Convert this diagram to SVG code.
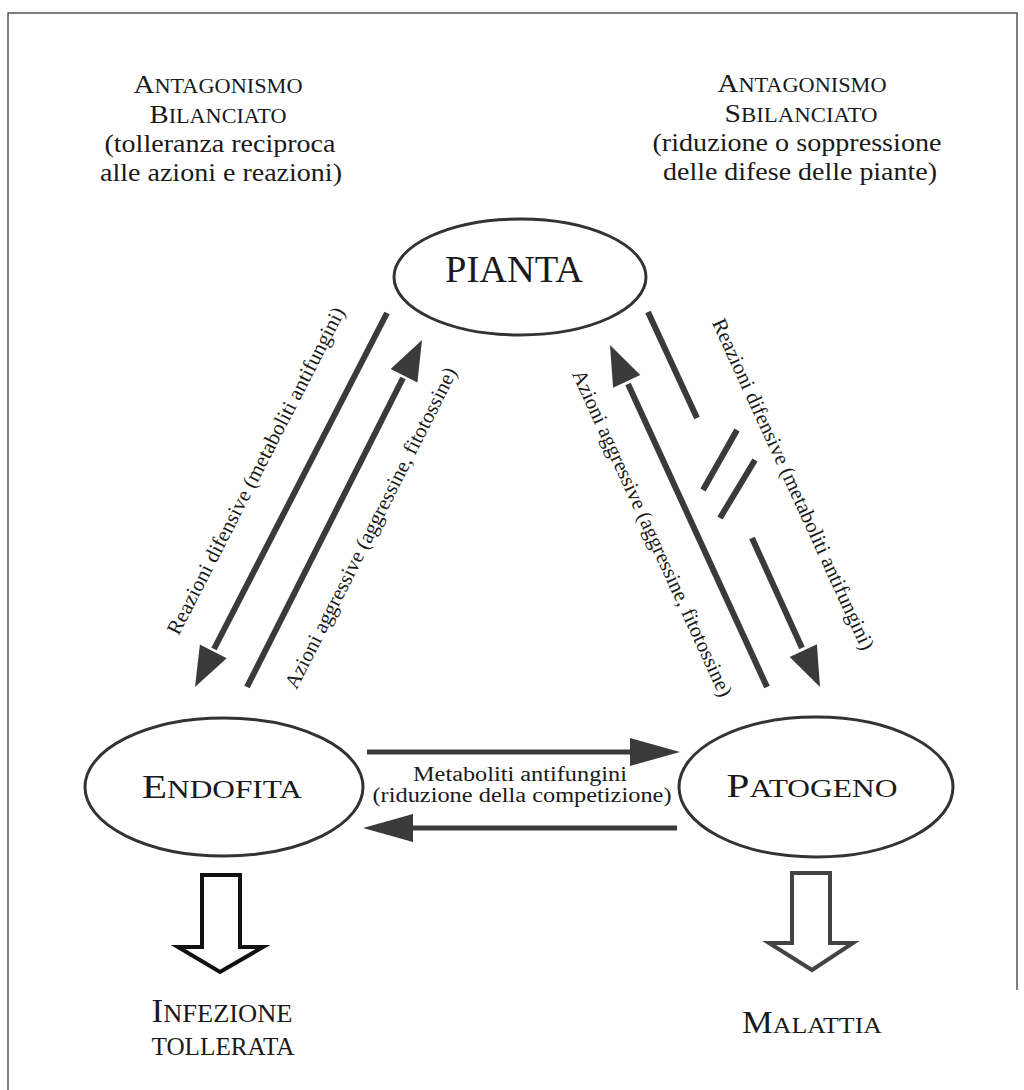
<svg xmlns="http://www.w3.org/2000/svg" width="1024" height="1090" viewBox="0 0 1024 1090">
<style>
  text { font-family: "Liberation Serif", "Times New Roman", serif; fill: #1a1a1a; }
  .hdr { font-size: 26px; }
  .lbl { font-size: 21px; }
  .mid { font-size: 20px; }
  .node { fill: none; stroke: #333; stroke-width: 3; }
  .conn { stroke: #3a3a3a; stroke-width: 6; fill: none; }
  .hconn { stroke: #3a3a3a; stroke-width: 5; fill: none; }
  .head { fill: #3a3a3a; stroke: none; }
  .hollow { fill: #fff; stroke-width: 4; stroke-linejoin: miter; }
</style>
<rect x="0" y="0" width="1024" height="1090" fill="#fff"/>
<g id="frame" stroke="#555" stroke-width="1.5" fill="none">
  <path d="M8 1090 V13 H1017 V990"/>
</g>

<g id="header-left">
  <text x="218" y="93" text-anchor="middle" textLength="169" lengthAdjust="spacingAndGlyphs"><tspan font-size="26">A</tspan><tspan font-size="20">NTAGONISMO</tspan></text>
  <text x="218" y="123" text-anchor="middle" textLength="137" lengthAdjust="spacingAndGlyphs"><tspan font-size="26">B</tspan><tspan font-size="20">ILANCIATO</tspan></text>
  <text class="hdr" x="220" y="152" text-anchor="middle" textLength="231" lengthAdjust="spacingAndGlyphs">(tolleranza reciproca</text>
  <text class="hdr" x="221" y="181" text-anchor="middle" textLength="242" lengthAdjust="spacingAndGlyphs">alle azioni e reazioni)</text>
</g>
<g id="header-right">
  <text x="802" y="92" text-anchor="middle" textLength="169" lengthAdjust="spacingAndGlyphs"><tspan font-size="26">A</tspan><tspan font-size="20">NTAGONISMO</tspan></text>
  <text x="801" y="122" text-anchor="middle" textLength="153" lengthAdjust="spacingAndGlyphs"><tspan font-size="26">S</tspan><tspan font-size="20">BILANCIATO</tspan></text>
  <text class="hdr" x="797" y="151" text-anchor="middle" textLength="289" lengthAdjust="spacingAndGlyphs">(riduzione o soppressione</text>
  <text class="hdr" x="800" y="180" text-anchor="middle" textLength="274" lengthAdjust="spacingAndGlyphs">delle difese delle piante)</text>
</g>

<g id="pianta">
  <ellipse class="node" cx="520" cy="277" rx="126" ry="58"/>
  <text x="514" y="282" text-anchor="middle" font-size="37" textLength="138" lengthAdjust="spacingAndGlyphs">PIANTA</text>
</g>
<g id="endofita">
  <ellipse class="node" cx="224" cy="787" rx="139" ry="69" stroke="#111" stroke-width="4.5"/>
  <text x="222" y="798" text-anchor="middle" textLength="160" lengthAdjust="spacingAndGlyphs"><tspan font-size="34">E</tspan><tspan font-size="26">NDOFITA</tspan></text>
</g>
<g id="patogeno">
  <ellipse class="node" cx="816" cy="787" rx="137" ry="70"/>
  <text x="812" y="797" text-anchor="middle" textLength="171" lengthAdjust="spacingAndGlyphs"><tspan font-size="34">P</tspan><tspan font-size="26">ATOGENO</tspan></text>
</g>
<g id="infezione-tollerata">
  <path class="hollow" stroke="#111" d="M202 875 H240 V947 H263 L220 972 L178 947 H202 Z"/>
  <text x="222" y="1022" text-anchor="middle" textLength="141" lengthAdjust="spacingAndGlyphs"><tspan font-size="33">I</tspan><tspan font-size="25">NFEZIONE</tspan></text>
  <text x="223" y="1055" text-anchor="middle" font-size="25" textLength="143" lengthAdjust="spacingAndGlyphs">TOLLERATA</text>
</g>
<g id="malattia">
  <path class="hollow" stroke="#444" d="M792 873 H830 V943 H853 L812 970 L769 943 H792 Z"/>
  <text x="812" y="1033" text-anchor="middle" textLength="140" lengthAdjust="spacingAndGlyphs"><tspan font-size="32">M</tspan><tspan font-size="24">ALATTIA</tspan></text>
</g>

<g id="connectors">
  <line class="conn" x1="387" y1="313" x2="214" y2="649"/>
  <polygon class="head" points="195,687 226.7,658.3 199.9,644.5"/>
  <line class="conn" x1="247" y1="687" x2="403" y2="378"/>
  <polygon class="head" points="422,340 417.4,382.4 390.6,369"/>
  <line class="conn" x1="767" y1="687" x2="628" y2="384"/>
  <polygon class="head" points="610,345 640.3,375.1 613.1,387.7"/>
  <line class="conn" x1="648" y1="312" x2="697" y2="418"/>
  <line class="conn" x1="737" y1="430" x2="703" y2="490"/>
  <line class="conn" x1="755" y1="460" x2="720" y2="518"/>
  <line class="conn" x1="752" y1="538" x2="802" y2="648"/>
  <polygon class="head" points="820,687 816.9,644.3 789.7,656.9"/>
  <line class="hconn" x1="367" y1="752" x2="632" y2="752"/>
  <polygon class="head" points="630,738 680,752 630,766"/>
  <line class="hconn" x1="411" y1="828" x2="677" y2="828"/>
  <polygon class="head" points="413,814 363,828 413,842"/>

  <text class="lbl" transform="translate(262,474) rotate(-62.8)" text-anchor="middle" textLength="365" lengthAdjust="spacingAndGlyphs">Reazioni difensive (metaboliti antifungini)</text>
  <text class="lbl" transform="translate(377,531) rotate(-63.2)" text-anchor="middle" textLength="357" lengthAdjust="spacingAndGlyphs">Azioni aggressive (aggressine, fitotossine)</text>
  <text class="lbl" transform="translate(646,536) rotate(65.4)" text-anchor="middle" textLength="357" lengthAdjust="spacingAndGlyphs">Azioni aggressive (aggressine, fitotossine)</text>
  <text class="lbl" transform="translate(787,487) rotate(65.4)" text-anchor="middle" textLength="362" lengthAdjust="spacingAndGlyphs">Reazioni difensive (metaboliti antifungini)</text>
  <text class="mid" x="520" y="781" text-anchor="middle" textLength="214" lengthAdjust="spacingAndGlyphs">Metaboliti antifungini</text>
  <text class="mid" x="522" y="802" text-anchor="middle" textLength="299" lengthAdjust="spacingAndGlyphs">(riduzione della competizione)</text>
</g>
</svg>
